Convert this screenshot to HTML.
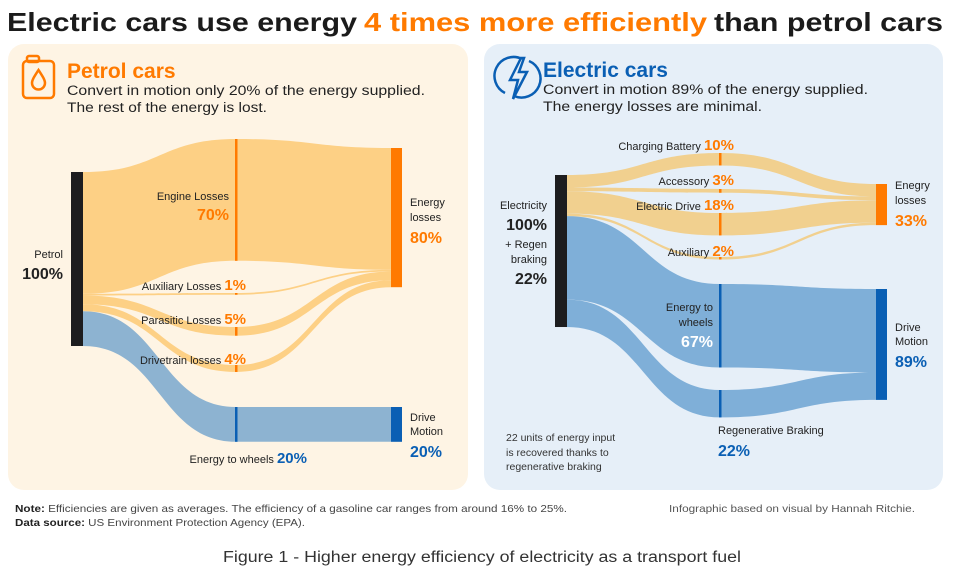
<!DOCTYPE html>
<html><head><meta charset="utf-8">
<style>
html,body{margin:0;padding:0;background:#fff;}
svg{display:block;font-family:"Liberation Sans",sans-serif;}
</style></head>
<body>
<svg id="chart" width="964" height="580" viewBox="0 0 964 580">
  <text x="7" y="31" font-size="26" font-weight="bold" fill="#1b1b1b" textLength="350" lengthAdjust="spacingAndGlyphs">Electric cars use energy</text>
  <text x="364" y="31" font-size="26" font-weight="bold" fill="#ff7a00" textLength="343" lengthAdjust="spacingAndGlyphs">4 times more efficiently</text>
  <text x="714" y="31" font-size="26" font-weight="bold" fill="#1b1b1b" textLength="229" lengthAdjust="spacingAndGlyphs">than petrol cars</text>

  <rect x="8" y="44" width="460" height="446" rx="16" fill="#fef4e4"/>
  <rect x="484" y="44" width="459" height="446" rx="16" fill="#e6eff8"/>

  <!-- petrol header -->
  <g fill="none" stroke="#ff7a00" stroke-width="2.5">
    <rect x="23" y="61" width="31" height="37" rx="4"/>
    <rect x="27" y="56" width="12" height="6" rx="2"/>
    <path d="M38.5 70 C34 77 32 80 32 83 A6.5 6.5 0 0 0 45 83 C45 80 43 77 38.5 70Z"/>
  </g>
  <text x="67" y="78" font-size="21" font-weight="bold" fill="#ff7a00">Petrol cars</text>
  <text x="67" y="95" font-size="13.5" fill="#222" textLength="358" lengthAdjust="spacingAndGlyphs">Convert in motion only 20% of the energy supplied.</text>
  <text x="67" y="112" font-size="13.5" fill="#222" textLength="200" lengthAdjust="spacingAndGlyphs">The rest of the energy is lost.</text>

  <!-- electric header -->
  <g fill="none" stroke="#0a5fb4" stroke-width="2.5">
    <path d="M505 93 A18 18 0 0 1 522 59"/>
    <path d="M529 61 A18 18 0 0 1 514 96"/>
    <path d="M521 58 L510 80 L518 80 L513 99 L527 72 L519 72 L524 58Z"/>
  </g>
  <text x="543" y="77" font-size="21" font-weight="bold" fill="#0a5fb4">Electric cars</text>
  <text x="543" y="94" font-size="13.5" fill="#222" textLength="325" lengthAdjust="spacingAndGlyphs">Convert in motion 89% of the energy supplied.</text>
  <text x="543" y="111" font-size="13.5" fill="#222" textLength="219" lengthAdjust="spacingAndGlyphs">The energy losses are minimal.</text>

  <g id="petrol-sankey"></g>
  <g id="electric-sankey"></g>
  <g id="labels"></g>

  <text x="15" y="512" font-size="10.5" fill="#444" textLength="552" lengthAdjust="spacingAndGlyphs"><tspan font-weight="bold" fill="#222">Note:</tspan> Efficiencies are given as averages. The efficiency of a gasoline car ranges from around 16% to 25%.</text>
  <text x="15" y="526" font-size="10.5" fill="#444" textLength="290" lengthAdjust="spacingAndGlyphs"><tspan font-weight="bold" fill="#222">Data source:</tspan> US Environment Protection Agency (EPA).</text>
  <text x="669" y="512" font-size="10.5" fill="#555" textLength="246" lengthAdjust="spacingAndGlyphs">Infographic based on visual by Hannah Ritchie.</text>
  <text x="482" y="562" font-size="15.5" fill="#333" text-anchor="middle" textLength="518" lengthAdjust="spacingAndGlyphs">Figure 1 - Higher energy efficiency of electricity as a transport fuel</text>
</svg>
<script>
// ---- Petrol data ----
const petrolLabels = ['Engine Losses','Auxiliary Losses','Parasitic Losses','Drivetrain losses','Energy to wheels'];
const petrolValues = [70, 1, 5, 4, 20];
const petrolIsLoss = [true, true, true, true, false];
const petrolSourceLabel = 'Petrol';
const petrolSourceValue = [100];

// ---- Electric data ----
const elecLabels = ['Charging Battery','Accessory','Electric Drive','Auxiliary','Energy to wheels','Regenerative Braking'];
const elecValues = [10, 3, 18, 2, 67, 22];
const elecIsLoss = [true, true, true, true, false, false];
const elecSourceValues = [100, 22];

const NS = 'http://www.w3.org/2000/svg';
function mk(tag, attrs, parent){
  const e = document.createElementNS(NS, tag);
  for (const k in attrs) e.setAttribute(k, attrs[k]);
  parent.appendChild(e);
  return e;
}
function band(x0, a0, b0, x1, a1, b1){
  const m = (x0 + x1) / 2;
  return `M${x0},${a0} C${m},${a0} ${m},${a1} ${x1},${a1} L${x1},${b1} C${m},${b1} ${m},${b0} ${x0},${b0} Z`;
}

function drawSankey(g, cfg){
  const {values, isLoss, scale, srcX, srcTop, midX, midTops, tgtX, lossTop, motionTop, lossColor, motionColor, bandLoss, bandMotion, name} = cfg;
  const total = values.reduce((a,b)=>a+b,0);
  let sy = srcTop, ly = lossTop, my = motionTop;
  const lossSum = values.filter((v,i)=>isLoss[i]).reduce((a,b)=>a+b,0);
  const motionSum = total - lossSum;
  values.forEach((v,i)=>{
    const h = v * scale;
    const mt = midTops[i];
    let tt;
    if (isLoss[i]) { tt = ly; ly += h; } else { tt = my; my += h; }
    const col = isLoss[i] ? bandLoss : bandMotion;
    const p1 = mk('path', {d: band(srcX+12, sy, sy+h, midX, mt, mt+h), fill: col}, g);
    
    
    const p2 = mk('path', {d: band(midX, mt, mt+h, tgtX, tt, tt+h), fill: col}, g);
    
    
    const n = mk('rect', {x: midX-1, y: mt, width: 2.5, height: Math.max(h,1.5), fill: isLoss[i] ? lossColor : motionColor}, g);
    
    
    sy += h;
  });
  const s = mk('rect', {x: srcX, y: srcTop, width: 12, height: total*scale, fill: '#1d1d1f'}, g);
  
  
  const l = mk('rect', {x: tgtX, y: lossTop, width: 11, height: lossSum*scale, fill: lossColor}, g);
  
  
  const d = mk('rect', {x: tgtX, y: motionTop, width: 11, height: motionSum*scale, fill: motionColor}, g);
  
  
  return {lossSum, motionSum, total};
}

const P = drawSankey(document.getElementById('petrol-sankey'), {
  values: petrolValues, isLoss: petrolIsLoss, scale: 1.74, srcX: 71, srcTop: 172,
  midX: 236, midTops: [139, 293, 327, 365, 407], tgtX: 391, lossTop: 148, motionTop: 407,
  lossColor: '#ff7a00', motionColor: '#0a5fb4', bandLoss: '#fdd085', bandMotion: '#8db3d1', name: 'petrol'
});
const E = drawSankey(document.getElementById('electric-sankey'), {
  values: elecValues, isLoss: elecIsLoss, scale: 1.246, srcX: 555, srcTop: 175,
  midX: 720, midTops: [153, 189, 213, 257, 284, 390], tgtX: 876, lossTop: 184, motionTop: 289,
  lossColor: '#ff7a00', motionColor: '#0a5fb4', bandLoss: '#f1d08f', bandMotion: '#7fafd8', name: 'electric'
});

const L = document.getElementById('labels');
function txt(x, y, s, o){
  o = o || {};
  const t = mk('text', {x, y, 'font-size': o.size || 11, fill: o.fill || '#222', 'font-weight': o.bold ? 'bold' : 'normal', 'text-anchor': o.anchor || 'start'}, L);
  t.textContent = s;
  
  
  return t;
}
function pair(xEnd, y, label, val, color, name){
  const t = mk('text', {x: xEnd, y, 'text-anchor': 'end', 'font-size': 11, fill: '#222'}, L);
  
  
  const a = document.createElementNS(NS, 'tspan'); a.textContent = label + ' ';
  const b = document.createElementNS(NS, 'tspan'); b.textContent = val + '%';
  b.setAttribute('font-weight', 'bold'); b.setAttribute('font-size', '15'); b.setAttribute('fill', color);
  t.appendChild(a); t.appendChild(b);
}
const OR = '#ff7a00', BL = '#0a5fb4';
// petrol labels
txt(229, 200, petrolLabels[0], {anchor: 'end', name: 'engine-losses-label'});
txt(229, 220, petrolValues[0] + '%', {anchor: 'end', bold: true, size: 16, fill: OR, name: 'engine-losses-value'});
pair(246, 290, petrolLabels[1], petrolValues[1], OR, 'auxiliary-losses-label');
pair(246, 324, petrolLabels[2], petrolValues[2], OR, 'parasitic-losses-label');
pair(246, 364, petrolLabels[3], petrolValues[3], OR, 'drivetrain-losses-label');
pair(307, 463, petrolLabels[4], petrolValues[4], BL, 'energy-to-wheels-label');
txt(63, 258, petrolSourceLabel, {anchor: 'end', name: 'petrol-source-label'});
txt(63, 279, petrolSourceValue[0] + '%', {anchor: 'end', bold: true, size: 16, name: 'petrol-source-value'});
txt(410, 206, 'Energy', {name: 'petrol-losses-label'});
txt(410, 221, 'losses', {name: 'petrol-losses-label-2'});
txt(410, 243, P.lossSum + '%', {bold: true, size: 16, fill: OR, name: 'petrol-losses-value'});
txt(410, 421, 'Drive', {name: 'petrol-motion-label'});
txt(410, 435, 'Motion', {name: 'petrol-motion-label-2'});
txt(410, 457, P.motionSum + '%', {bold: true, size: 16, fill: BL, name: 'petrol-motion-value'});
// electric labels
pair(734, 150, elecLabels[0], elecValues[0], OR, 'charging-battery-label');
pair(734, 185, elecLabels[1], elecValues[1], OR, 'accessory-label');
pair(734, 210, elecLabels[2], elecValues[2], OR, 'electric-drive-label');
pair(734, 256, elecLabels[3], elecValues[3], OR, 'auxiliary-label');
txt(713, 311, 'Energy to', {anchor: 'end', name: 'energy-to-wheels-label'});
txt(713, 326, 'wheels', {anchor: 'end', name: 'energy-to-wheels-label-2'});
txt(713, 347, elecValues[4] + '%', {anchor: 'end', bold: true, size: 16, fill: '#fff', name: 'energy-to-wheels-value'});
txt(718, 434, elecLabels[5], {name: 'regen-braking-label'});
txt(718, 456, elecValues[5] + '%', {bold: true, size: 16, fill: BL, name: 'regen-braking-value'});
txt(547, 209, 'Electricity', {anchor: 'end', name: 'electricity-label'});
txt(547, 230, elecSourceValues[0] + '%', {anchor: 'end', bold: true, size: 16, name: 'electricity-value'});
txt(547, 248, '+ Regen', {anchor: 'end', name: 'regen-source-label'});
txt(547, 263, 'braking', {anchor: 'end', name: 'regen-source-label-2'});
txt(547, 284, elecSourceValues[1] + '%', {anchor: 'end', bold: true, size: 16, name: 'regen-source-value'});
txt(895, 189, 'Enegry', {name: 'electric-losses-label'});
txt(895, 204, 'losses', {name: 'electric-losses-label-2'});
txt(895, 226, E.lossSum + '%', {bold: true, size: 16, fill: OR, name: 'electric-losses-value'});
txt(895, 331, 'Drive', {name: 'electric-motion-label'});
txt(895, 345, 'Motion', {name: 'electric-motion-label-2'});
txt(895, 367, E.motionSum + '%', {bold: true, size: 16, fill: BL, name: 'electric-motion-value'});
txt(506, 441, elecSourceValues[1] + ' units of energy input', {size: 10.5, fill: '#333', name: 'regen-note-1'});
txt(506, 456, 'is recovered thanks to', {size: 10.5, fill: '#333', name: 'regen-note-2'});
txt(506, 470, 'regenerative braking', {size: 10.5, fill: '#333', name: 'regen-note-3'});
</script>
</body></html>
